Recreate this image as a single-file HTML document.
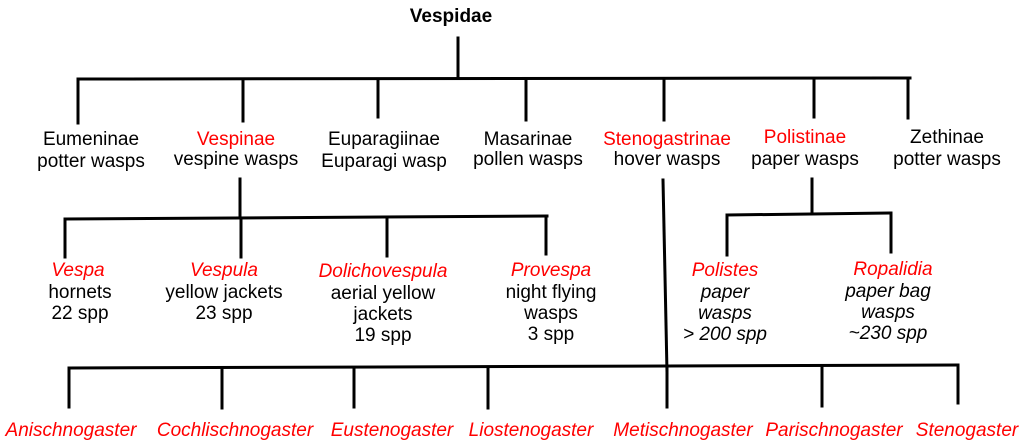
<!DOCTYPE html>
<html><head><style>html,body{margin:0;padding:0;background:#fff}svg{display:block}</style></head><body>
<svg width="1024" height="448" viewBox="0 0 1024 448" xmlns="http://www.w3.org/2000/svg" font-family="Liberation Sans, sans-serif" font-size="19" text-anchor="middle">
<g stroke="#000" stroke-width="3" fill="none" stroke-linecap="square">
<line x1="458" y1="38" x2="458" y2="78"/>
<line x1="78" y1="79" x2="910" y2="78"/>
<line x1="78" y1="80" x2="78" y2="123"/>
<line x1="243" y1="80" x2="243" y2="121"/>
<line x1="378" y1="80" x2="378" y2="117"/>
<line x1="526" y1="80" x2="526" y2="120"/>
<line x1="664" y1="80" x2="664" y2="120"/>
<line x1="814" y1="79" x2="814" y2="117"/>
<line x1="908" y1="79" x2="908" y2="118"/>
<line x1="240" y1="179" x2="240" y2="217"/>
<line x1="65" y1="219" x2="547" y2="216"/>
<line x1="65" y1="219" x2="65" y2="257"/>
<line x1="241" y1="218" x2="241" y2="257"/>
<line x1="387" y1="218" x2="387" y2="256"/>
<line x1="546" y1="217" x2="546" y2="254"/>
<line x1="812" y1="179" x2="812" y2="213"/>
<line x1="727" y1="215" x2="891" y2="213"/>
<line x1="727" y1="215" x2="727" y2="255"/>
<line x1="891" y1="214" x2="891" y2="252"/>
<line x1="663" y1="180" x2="667" y2="372"/>
<line x1="69" y1="368" x2="958" y2="365"/>
<line x1="69" y1="368" x2="69" y2="407"/>
<line x1="222" y1="368" x2="222" y2="408"/>
<line x1="354" y1="368" x2="354" y2="407"/>
<line x1="488" y1="368" x2="488" y2="408"/>
<line x1="667" y1="366" x2="667" y2="407"/>
<line x1="822" y1="366" x2="822" y2="406"/>
<line x1="958" y1="366" x2="958" y2="403"/>
</g>
<text x="451" y="22" font-weight="bold">Vespidae</text>
<g fill="#000">
<text x="91" y="145">Eumeninae</text><text x="91" y="167">potter wasps</text>
<text x="236" y="145" fill="#ff0000">Vespinae</text><text x="236" y="165">vespine wasps</text>
<text x="384" y="145">Euparagiinae</text><text x="384" y="167">Euparagi wasp</text>
<text x="528" y="145">Masarinae</text><text x="528" y="165">pollen wasps</text>
<text x="667" y="145" fill="#ff0000">Stenogastrinae</text><text x="667" y="165">hover wasps</text>
<text x="805" y="143" fill="#ff0000">Polistinae</text><text x="805" y="165">paper wasps</text>
<text x="947" y="143">Zethinae</text><text x="947" y="165">potter wasps</text>

<text x="78" y="276" fill="#ff0000" font-style="italic">Vespa</text><text x="80" y="298">hornets</text><text x="80" y="319">22 spp</text>
<text x="224" y="276" fill="#ff0000" font-style="italic">Vespula</text><text x="224" y="298">yellow jackets</text><text x="224" y="319">23 spp</text>
<text x="383" y="277" fill="#ff0000" font-style="italic">Dolichovespula</text><text x="383" y="299">aerial yellow</text><text x="383" y="320">jackets</text><text x="383" y="341">19 spp</text>
<text x="551" y="276" fill="#ff0000" font-style="italic">Provespa</text><text x="551" y="298">night flying</text><text x="551" y="319">wasps</text><text x="551" y="340">3 spp</text>

<g font-style="italic">
<text x="725" y="276" fill="#ff0000">Polistes</text><text x="725" y="298">paper</text><text x="725" y="319">wasps</text><text x="725" y="340">&gt; 200 spp</text>
<text x="893" y="275" fill="#ff0000">Ropalidia</text><text x="888" y="297">paper bag</text><text x="888" y="318">wasps</text><text x="888" y="339">~230 spp</text>
</g>
<g font-style="italic" fill="#ff0000" font-size="19">
<text x="71" y="436">Anischnogaster</text>
<text x="235" y="436">Cochlischnogaster</text>
<text x="392" y="436">Eustenogaster</text>
<text x="531" y="436">Liostenogaster</text>
<text x="683" y="436">Metischnogaster</text>
<text x="834" y="436">Parischnogaster</text>
<text x="967" y="436">Stenogaster</text>
</g>
</g>
</svg>
</body></html>
